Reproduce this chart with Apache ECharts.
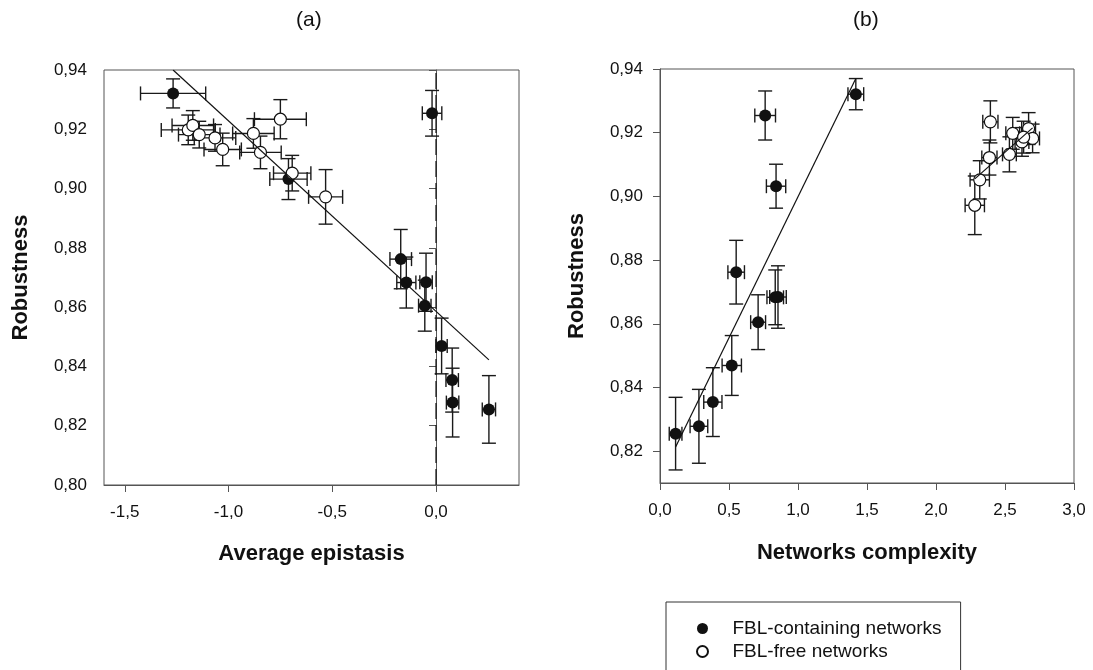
<!DOCTYPE html>
<html>
<head>
<meta charset="utf-8">
<script src="https://cdn.jsdelivr.net/npm/echarts@6/dist/echarts.min.js"></script>
<style>
  html, body { margin: 0; padding: 0; background: #fff; }
  #chart { width: 1093px; height: 670px; }
</style>
</head>
<body>
<div id="chart"></div>
<script>
// FBL-containing networks (filled)
const fblEpi = [-1.267, -0.019, -0.711, -0.170, -0.143, -0.048, -0.054, 0.027, 0.078, 0.080, 0.255]
const fblEpiErr = [0.157, 0.047, 0.09, 0.052, 0.046, 0.03, 0.03, 0.027, 0.03, 0.03, 0.032]
const fblCx = [1.419, 0.762, 0.841, 0.552, 0.835, 0.855, 0.711, 0.520, 0.383, 0.282, 0.113]
const fblCxErr = [0.057, 0.075, 0.07, 0.06, 0.06, 0.06, 0.054, 0.07, 0.066, 0.064, 0.046]
const fblRob = [0.9321, 0.9254, 0.9032, 0.8762, 0.8683, 0.8684, 0.8605, 0.8469, 0.8354, 0.8278, 0.8255]
const fblRobErr = [0.0049, 0.0077, 0.0069, 0.0100, 0.0086, 0.0098, 0.0086, 0.0094, 0.0108, 0.0116, 0.0114]

// FBL-free networks (open)
const freeEpi = [-0.750, -1.194, -1.172, -1.141, -1.065, -1.028, -0.880, -0.846, -0.693, -0.532]
const freeEpiErr = [0.125, 0.13, 0.1, 0.1, 0.1, 0.09, 0.1, 0.1, 0.09, 0.082]
const freeCx = [2.394, 2.556, 2.671, 2.700, 2.623, 2.532, 2.635, 2.387, 2.317, 2.281]
const freeCxErr = [0.055, 0.05, 0.05, 0.05, 0.05, 0.05, 0.05, 0.055, 0.07, 0.07]
const freeRob = [0.9234, 0.9198, 0.9213, 0.9182, 0.9171, 0.9132, 0.9186, 0.9122, 0.9052, 0.8972]
const freeRobErr = [0.0066, 0.0050, 0.0050, 0.0045, 0.0045, 0.0055, 0.0050, 0.0055, 0.0060, 0.0092]

// regression lines
const fitA_x = [-1.267, 0.255]
const fitA_y = [0.9400, 0.8422]
const fitB1_x = [0.113, 1.419]
const fitB1_y = [0.8213, 0.9370]
const fitB2_x = [2.281, 2.700]
const fitB2_y = [0.9055, 0.9215]

const epiTicks = [-1.5, -1.0, -0.5, 0.0]
const robTicksB = [0.82, 0.84, 0.86, 0.88, 0.90, 0.92, 0.94]
const titles = ['(a)', '(b)']
const seriesNames = ['FBL-containing networks', 'FBL-free networks']

const font = 'Liberation Sans, Arial, sans-serif'
const ink = '#111'
const frame = '#555'

const rows = (xs, ys, exs, eys) => xs.map((x, i) => [x, ys[i], exs[i], eys[i]])
const pts = (xs, ys) => xs.map((x, i) => [x, ys[i]])
const comma = d => v => v.toFixed(d).replace('.', ',')

function errRender(params, api) {
  const x = api.value(0)
  const y = api.value(1)
  const ex = api.value(2)
  const ey = api.value(3)
  const l = api.coord([x - ex, y])
  const r = api.coord([x + ex, y])
  const t = api.coord([x, y + ey])
  const b = api.coord([x, y - ey])
  const cap = 7
  const style = { stroke: '#1a1a1a', lineWidth: 1.4 }
  const seg = (x1, y1, x2, y2) => ({ type: 'line', shape: { x1, y1, x2, y2 }, style })
  return {
    type: 'group',
    children: [
      seg(l[0], l[1], r[0], r[1]),
      seg(t[0], t[1], b[0], b[1]),
      seg(l[0], l[1] - cap, l[0], l[1] + cap),
      seg(r[0], r[1] - cap, r[0], r[1] + cap),
      seg(t[0] - cap, t[1], t[0] + cap, t[1]),
      seg(b[0] - cap, b[1], b[0] + cap, b[1])
    ]
  }
}

function errSeries(data, idx) {
  return {
    type: 'custom',
    coordinateSystem: 'cartesian2d',
    xAxisIndex: idx,
    yAxisIndex: idx,
    renderItem: errRender,
    encode: { x: 0, y: 1 },
    data: data,
    silent: true,
    z: 2
  }
}

function lineSeries(data, idx, dashed) {
  return {
    type: 'line',
    xAxisIndex: idx,
    yAxisIndex: idx,
    data: data,
    symbol: 'none',
    silent: true,
    lineStyle: { color: ink, width: 1.2, type: dashed ? [16, 6] : 'solid' },
    z: 4
  }
}

function dotSeries(name, data, idx, open) {
  return {
    name: name,
    type: 'scatter',
    xAxisIndex: idx,
    yAxisIndex: idx,
    data: data,
    symbol: 'circle',
    symbolSize: 12,
    itemStyle: open
      ? { color: '#fff', borderColor: ink, borderWidth: 1.2, opacity: 1 }
      : { color: ink, borderColor: ink, borderWidth: 0, opacity: 1 },
    z: 3
  }
}

const axisCommon = {
  axisLine: { show: true, lineStyle: { color: frame, width: 1 } },
  axisTick: { show: true, inside: false, length: 7, lineStyle: { color: frame } },
  splitLine: { show: false },
  nameLocation: 'middle',
  nameTextStyle: { fontFamily: font, fontSize: 22, fontWeight: 'bold', color: ink }
}

const labelStyle = { fontFamily: font, fontSize: 17, color: ink }

const chart = echarts.init(document.getElementById('chart'), null, { renderer: 'canvas' })

const option = {
  animation: false,
  backgroundColor: '#fff',
  graphic: [
    { type: 'text', left: 296, top: 10, style: { text: titles[0], font: '21px ' + font, fill: ink } },
    { type: 'text', left: 853, top: 10, style: { text: titles[1], font: '21px ' + font, fill: ink } }
  ],
  grid: [
    { left: 104, top: 70, width: 415, height: 415, show: true, borderColor: frame, borderWidth: 1 },
    { left: 660, top: 69, width: 414, height: 414, show: true, borderColor: frame, borderWidth: 1 }
  ],
  xAxis: [
    Object.assign({}, axisCommon, {
      gridIndex: 0, type: 'value', min: -1.6, max: 0.4,
      name: 'Average epistasis', nameGap: 58,
      axisTick: Object.assign({}, axisCommon.axisTick, { customValues: epiTicks }),
      axisLabel: Object.assign({}, labelStyle, { margin: 19, formatter: comma(1), customValues: epiTicks })
    }),
    Object.assign({}, axisCommon, {
      gridIndex: 1, type: 'value', min: 0, max: 3, interval: 0.5,
      name: 'Networks complexity', nameGap: 59,
      axisLabel: Object.assign({}, labelStyle, { margin: 19, formatter: comma(1) })
    })
  ],
  yAxis: [
    Object.assign({}, axisCommon, {
      gridIndex: 0, type: 'value', min: 0.80, max: 0.94, interval: 0.02,
      name: 'Robustness', nameGap: 72,
      axisLabel: Object.assign({}, labelStyle, { margin: 17, formatter: comma(2) })
    }),
    Object.assign({}, axisCommon, {
      gridIndex: 1, type: 'value', min: 0.81, max: 0.94,
      name: 'Robustness', nameGap: 72,
      axisTick: Object.assign({}, axisCommon.axisTick, { customValues: robTicksB }),
      axisLabel: Object.assign({}, labelStyle, { margin: 17, formatter: comma(2), customValues: robTicksB })
    })
  ],
  legend: {
    data: seriesNames,
    orient: 'vertical',
    left: 666,
    top: 602,
    height: 60,
    padding: [17, 19, 30, 30],
    itemGap: 4,
    itemWidth: 50,
    itemHeight: 11,
    icon: 'circle',
    borderColor: '#333',
    borderWidth: 1,
    selectedMode: false,
    textStyle: { fontFamily: font, fontSize: 19, color: ink }
  },
  series: [
    lineSeries([[0, 0.80], [0, 0.94]], 0, true),
    errSeries(rows(fblEpi, fblRob, fblEpiErr, fblRobErr), 0),
    dotSeries(seriesNames[0], pts(fblEpi, fblRob), 0, false),
    errSeries(rows(freeEpi, freeRob, freeEpiErr, freeRobErr), 0),
    dotSeries(seriesNames[1], pts(freeEpi, freeRob), 0, true),
    lineSeries(pts(fitA_x, fitA_y), 0, false),

    errSeries(rows(fblCx, fblRob, fblCxErr, fblRobErr), 1),
    dotSeries(seriesNames[0], pts(fblCx, fblRob), 1, false),
    errSeries(rows(freeCx, freeRob, freeCxErr, freeRobErr), 1),
    dotSeries(seriesNames[1], pts(freeCx, freeRob), 1, true),
    lineSeries(pts(fitB1_x, fitB1_y), 1, false),
    lineSeries(pts(fitB2_x, fitB2_y), 1, false)
  ]
}

chart.setOption(option)
</script>
</body>
</html>
